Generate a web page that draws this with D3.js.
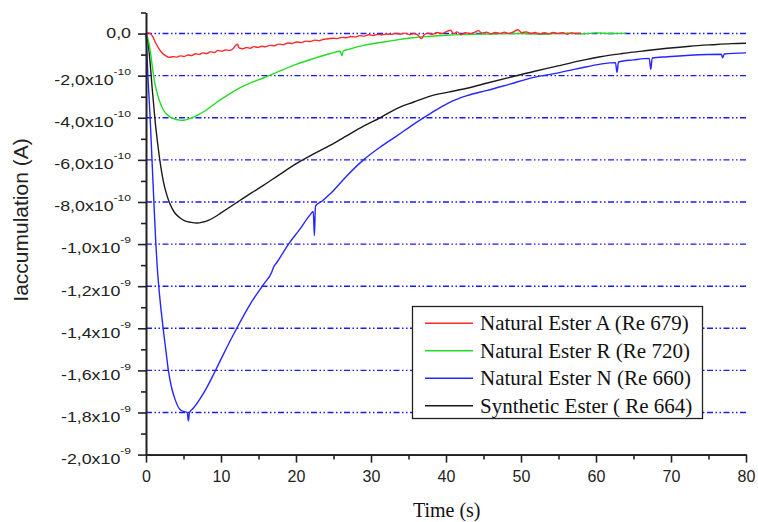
<!DOCTYPE html>
<html>
<head>
<meta charset="utf-8">
<script src="https://cdn.jsdelivr.net/npm/d3@7"></script>
<style>
  body { margin: 0; background: #fff; }
  svg { display: block; }
</style>
</head>
<body>
<div id="chart"></div>
<script>
// values in units of 1e-10 A, time in s
const seriesNames = ["Natural Ester A (Re 679)", "Natural Ester R (Re 720)", "Natural Ester N (Re 660)", "Synthetic Ester ( Re 664)"];
const seriesColors = ["#ff2a2a", "#22dd22", "#2626ff", "#1a1a1a"];

const esterA = [[0,0],[0.3,0.03],[0.6,0.0],[0.9,-0.15],[1.3,-0.45],[1.7,-0.7],[2.1,-0.9],[2.6,-1.05],[3.1,-1.13],[3.6,-1.1],[4.1,-1.12],[4.6,-1.06],[5.1,-1.09],[5.6,-1.02],[6.1,-1.04],[6.6,-0.96],[7.1,-0.99],[7.6,-0.92],[8.1,-0.95],[8.6,-0.86],[9.1,-0.9],[9.6,-0.8],[10.1,-0.84],[10.6,-0.78],[11.1,-0.8],[11.6,-0.72],[12.0,-0.55],[12.2,-0.5],[12.4,-0.68],[12.9,-0.72],[13.4,-0.66],[13.9,-0.7],[14.4,-0.62],[14.9,-0.66],[15.4,-0.6],[15.9,-0.63],[16.5,-0.56],[17.1,-0.58],[17.7,-0.5],[18.3,-0.53],[18.9,-0.45],[19.5,-0.47],[20.1,-0.4],[20.7,-0.43],[21.3,-0.36],[21.9,-0.38],[22.5,-0.31],[23.1,-0.34],[23.7,-0.27],[24.3,-0.25],[24.9,-0.22],[25.5,-0.24],[26.1,-0.18],[26.7,-0.2],[27.3,-0.14],[27.9,-0.16],[28.5,-0.1],[29.1,-0.12],[29.7,-0.06],[30.3,-0.09],[30.9,-0.04],[31.5,-0.06],[32.1,-0.02],[32.7,-0.04],[33.3,0.01],[33.9,-0.03],[34.5,0.02],[35.1,-0.05],[35.7,0.0],[36.3,-0.08],[36.7,-0.24],[37.1,-0.06],[37.6,0.02],[38.2,-0.04],[38.8,0.05],[39.4,0.0],[40.0,0.08],[40.6,0.16],[41.0,0.0],[41.5,0.08],[42.0,-0.05],[42.6,0.04],[43.2,0.0],[43.8,0.06],[44.3,0.14],[44.8,0.02],[45.4,0.07],[46.0,-0.02],[46.6,0.05],[47.2,0.01],[47.8,0.06],[48.4,0.0],[49.0,0.08],[49.6,0.18],[50.1,0.04],[50.7,0.08],[51.3,0.0],[51.9,0.05],[52.5,-0.03],[53.1,0.04],[53.7,-0.02],[54.3,0.05],[54.9,0.0],[55.5,0.04],[56.1,-0.03],[56.7,0.03],[57.3,0.0],[58.0,0.02]];

const esterR = [[0,0],[0.3,-0.3],[0.6,-0.9],[0.8,-1.45],[1.0,-1.97],[1.2,-2.4],[1.45,-2.78],[1.8,-3.2],[2.3,-3.62],[2.8,-3.85],[3.3,-3.98],[3.9,-4.07],[4.5,-4.11],[5.0,-4.12],[5.5,-4.08],[6.0,-4.02],[7.0,-3.85],[8.1,-3.62],[9.0,-3.38],[10.0,-3.13],[11.2,-2.85],[12.5,-2.58],[14.0,-2.33],[15.7,-2.1],[17.5,-1.83],[20.1,-1.45],[22.4,-1.18],[24.6,-0.95],[25.9,-0.84],[26.1,-1.05],[26.3,-0.83],[27.0,-0.75],[29.0,-0.56],[31.0,-0.44],[33.5,-0.3],[35.5,-0.2],[38.0,-0.13],[40.6,-0.07],[43.0,-0.04],[46.0,-0.02],[50.0,0.0],[53.0,-0.03],[56.0,0.02],[58.5,-0.01],[60.0,0.03],[62.0,0.0],[64.0,0.02]];

const esterN = [[0,0],[0.25,-2.0],[0.55,-4.0],[0.8,-6.0],[1.0,-7.6],[1.3,-9.9],[1.5,-11.1],[1.7,-12.0],[2.0,-13.1],[2.3,-14.05],[2.65,-15.05],[2.98,-16.0],[3.4,-16.8],[3.9,-17.4],[4.5,-17.85],[5.0,-17.95],[5.5,-18.0],[5.65,-18.4],[5.8,-18.0],[6.3,-17.8],[7.2,-17.35],[8.1,-16.82],[9.2,-16.05],[10.3,-15.25],[12.1,-14.0],[13.9,-12.85],[15.7,-11.9],[16.8,-11.3],[17.0,-11.1],[17.4,-10.9],[19.0,-10.0],[20.5,-9.3],[21.9,-8.6],[22.3,-8.45],[22.45,-9.6],[22.6,-8.2],[23.5,-7.95],[24.6,-7.6],[26.8,-6.75],[29.0,-6.0],[31.2,-5.4],[33.5,-4.85],[35.7,-4.3],[37.9,-3.8],[40.3,-3.3],[42.8,-2.95],[45.5,-2.7],[48.5,-2.4],[51.7,-2.08],[54.8,-1.88],[57.8,-1.65],[60.6,-1.45],[62.6,-1.38],[62.8,-1.85],[63.0,-1.35],[65.0,-1.25],[67.1,-1.18],[67.3,-1.7],[67.5,-1.16],[69.5,-1.1],[72.5,-1.03],[76.7,-0.98],[76.9,-1.15],[77.1,-0.97],[80.0,-0.92]];

const synthetic = [[0,0],[0.3,-0.5],[0.6,-1.6],[0.8,-2.5],[1.0,-3.3],[1.2,-4.1],[1.45,-4.9],[1.8,-5.9],[2.3,-7.0],[2.8,-7.7],[3.2,-8.1],[3.8,-8.5],[4.5,-8.75],[5.2,-8.9],[6.0,-8.97],[6.8,-9.0],[7.6,-8.95],[8.3,-8.87],[9.0,-8.75],[10.0,-8.52],[11.2,-8.24],[12.5,-7.93],[14.0,-7.58],[15.7,-7.2],[17.8,-6.7],[20.1,-6.17],[22.3,-5.73],[24.6,-5.3],[26.8,-4.85],[29.0,-4.4],[31.2,-4.0],[33.5,-3.55],[35.7,-3.25],[37.9,-2.97],[40.3,-2.78],[42.8,-2.6],[45.5,-2.35],[48.5,-2.08],[51.7,-1.8],[54.8,-1.55],[57.8,-1.3],[60.6,-1.1],[63.5,-0.95],[66.5,-0.82],[69.5,-0.7],[72.5,-0.6],[75.5,-0.53],[78.0,-0.48],[80.0,-0.46]];

const xTickValues = [0, 10, 20, 30, 40, 50, 60, 70, 80];
const xMinorTicks = [5, 15, 25, 35, 45, 55, 65, 75];
const yTickValues = [0, -2, -4, -6, -8, -10, -12, -14, -16, -18, -20];
const yTickMain = ["0,0", "-2,0x10", "-4,0x10", "-6,0x10", "-8,0x10", "-1,0x10", "-1,2x10", "-1,4x10", "-1,6x10", "-1,8x10", "-2,0x10"];
const yTickExp = ["", "-10", "-10", "-10", "-10", "-9", "-9", "-9", "-9", "-9", "-9"];
const yMinorTicks = [1, -1, -3, -5, -7, -9, -11, -13, -15, -17, -19];

const width = 758;
const height = 522;

const svg = d3.select("#chart")
  .append("svg")
  .attr("width", width)
  .attr("height", height);

const x = d3.scaleLinear().domain([0, 80]).range([146, 746]);
const y = d3.scaleLinear().domain([-20, 1]).range([454.6, 12.5]);

// dotted grid lines at the labelled values (not the bottom one)
svg.append("g")
  .selectAll("line")
  .data(yTickValues.filter(d => d > -20))
  .enter().append("line")
  .attr("x1", x(0))
  .attr("x2", x(80))
  .attr("y1", d => y(d))
  .attr("y2", d => y(d))
  .style("stroke", "#1a1aff")
  .style("stroke-width", 1.4)
  .style("stroke-dasharray", "6,2.5,1.5,2.5,1.5,2.5");

// curves
const line = d3.line()
  .x(d => x(d[0]))
  .y(d => y(d[1]))
  .curve(d3.curveMonotoneX);

const allSeries = [esterA, esterR, esterN, synthetic];
// draw black first, then blue, green, red on top
[3, 2, 1, 0].forEach(function (i) {
  svg.append("path")
    .datum(allSeries[i])
    .attr("d", line)
    .style("fill", "none")
    .style("stroke", seriesColors[i])
    .style("stroke-width", 1.4)
    .style("stroke-linejoin", "round");
});

// axes
const axisColor = "#222";
const yMinorAxis = svg.append("g")
  .attr("transform", "translate(146,0)")
  .call(d3.axisLeft(y).tickValues(yMinorTicks).tickSize(5).tickSizeOuter(0).tickFormat(""));
const yAxis = svg.append("g")
  .attr("transform", "translate(146,0)")
  .call(d3.axisLeft(y).tickValues(yTickValues).tickSize(8).tickSizeOuter(0).tickFormat(""));
const xMinorAxis = svg.append("g")
  .attr("transform", "translate(0,454.6)")
  .call(d3.axisBottom(x).tickValues(xMinorTicks).tickSize(5).tickSizeOuter(0).tickFormat(""));
const xAxis = svg.append("g")
  .attr("transform", "translate(0,454.6)")
  .call(d3.axisBottom(x).tickValues(xTickValues).tickSize(8).tickSizeOuter(0).tickPadding(8.5).tickFormat(d3.format("d")));

[yMinorAxis, yAxis, xMinorAxis, xAxis].forEach(function (g) {
  g.selectAll("path, line").style("stroke", axisColor).style("stroke-width", 1.6);
});
xAxis.selectAll("text")
  .style("font-family", "'Liberation Sans', Arial, sans-serif")
  .style("font-size", "16px")
  .style("fill", "#222");

// y tick labels with superscript exponent, stretched horizontally like the original
const yLabels = svg.append("g")
  .selectAll("g")
  .data(yTickValues)
  .enter().append("g")
  .attr("transform", (d, i) => "translate(131," + (y(d) + (yTickExp[i] ? 9.4 : 4.5)) + ") scale(1.27,1)");

yLabels.append("text")
  .style("font-family", "'Liberation Sans', Arial, sans-serif")
  .style("font-size", "14px")
  .style("fill", "#222")
  .attr("text-anchor", "end")
  .each(function (d, i) {
    const t = d3.select(this);
    t.append("tspan").text(yTickMain[i]);
    if (yTickExp[i]) {
      t.append("tspan")
        .attr("dy", -10)
        .style("font-size", "9.5px")
        .text(yTickExp[i]);
    }
  });

// axis titles
svg.append("text")
  .attr("transform", "translate(28,220) rotate(-90)")
  .attr("text-anchor", "middle")
  .style("font-family", "'Liberation Sans', Arial, sans-serif")
  .style("font-size", "21px")
  .style("fill", "#222")
  .text("Iaccumulation (A)");

svg.append("text")
  .attr("x", 446.7)
  .attr("y", 516.5)
  .attr("text-anchor", "middle")
  .style("font-family", "'Liberation Serif', 'Times New Roman', serif")
  .style("font-size", "20px")
  .style("fill", "#111")
  .text("Time (s)");

// legend
const legend = svg.append("g");
legend.append("rect")
  .attr("x", 412.5)
  .attr("y", 306.5)
  .attr("width", 290)
  .attr("height", 112)
  .style("fill", "#fff")
  .style("stroke", "#222")
  .style("stroke-width", 1.3);

const rows = legend.selectAll("g.row")
  .data(seriesNames)
  .enter().append("g")
  .attr("class", "row")
  .attr("transform", (d, i) => "translate(0," + (323.3 + i * 27.5) + ")");

rows.append("line")
  .attr("x1", 425)
  .attr("x2", 473)
  .style("stroke", (d, i) => seriesColors[i])
  .style("stroke-width", 1.4);

rows.append("text")
  .attr("x", 480)
  .attr("y", 7)
  .style("font-family", "'Liberation Serif', 'Times New Roman', serif")
  .style("font-size", "21px")
  .style("fill", "#111")
  .text(d => d);
</script>
</body>
</html>
